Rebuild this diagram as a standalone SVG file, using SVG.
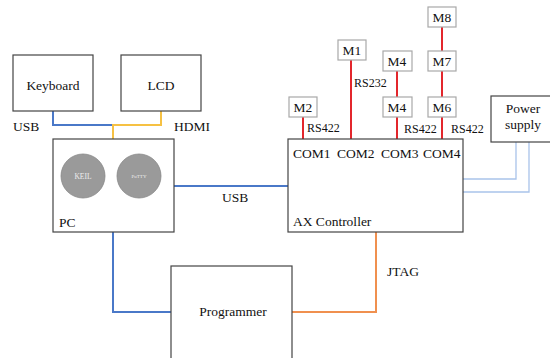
<svg xmlns="http://www.w3.org/2000/svg" width="550" height="358" viewBox="0 0 550 358" font-family="'Liberation Serif', 'DejaVu Serif', serif">
<style>
.box{fill:#fff;stroke:#444;stroke-width:1.2}
.mbox{fill:#fff;stroke:#a8a8a8;stroke-width:1.2}
text{font-family:'Liberation Serif','DejaVu Serif',serif;font-size:13.5px;fill:#111}
.c{text-anchor:middle}
.lbl{font-size:12px}
.ln{fill:none;stroke-width:2}
.blue{stroke:#4a78c8}
.yel{stroke:#f6c143}
.red{stroke:#e3262c}
.org{stroke:#f0904f}
.lb{stroke:#a9c3ea;stroke-width:1.3;fill:none}
</style>
<rect width="550" height="358" fill="#fff"/>
<g id="connectors">
<polyline class="ln blue" points="53,111 53,125 113,125"/>
<polyline class="ln yel" points="161,111 161,125 113,125 113,139"/>
<line class="ln blue" x1="174" y1="186" x2="288" y2="186"/>
<polyline class="ln blue" points="113,232 113,312 171,312"/>
<polyline class="ln org" points="376,232 376,312 292,312"/>
<line class="ln red" x1="303" y1="117" x2="303" y2="139"/>
<line class="ln red" x1="351" y1="60" x2="351" y2="139"/>
<line class="ln red" x1="397" y1="71" x2="397" y2="97"/>
<line class="ln red" x1="397" y1="117" x2="397" y2="139"/>
<line class="ln red" x1="442" y1="27" x2="442" y2="51"/>
<line class="ln red" x1="442" y1="71" x2="442" y2="97"/>
<line class="ln red" x1="442" y1="117" x2="442" y2="139"/>
<polyline class="lb" points="516,142 516,179 463,179"/>
<polyline class="lb" points="529,142 529,192 463,192"/>
<text x="13" y="131">USB</text>
<text x="174" y="131">HDMI</text>
<text x="222" y="202">USB</text>
<text x="387" y="276">JTAG</text>
<text class="lbl" x="307" y="132">RS422</text>
<text class="lbl" x="354" y="87">RS232</text>
<text class="lbl" x="404" y="133">RS422</text>
<text class="lbl" x="451" y="133">RS422</text>
</g>
<g id="keyboard"><rect class="box" x="13" y="55" width="80" height="56"/><text class="c" x="53" y="90">Keyboard</text></g>
<g id="lcd"><rect class="box" x="121" y="55" width="80" height="56"/><text class="c" x="161" y="90">LCD</text></g>
<g id="pc"><rect class="box" x="53" y="139" width="121" height="93"/>
<circle cx="83" cy="176" r="22" fill="#9a9a9a" stroke="#888" stroke-width="0.8"/>
<circle cx="139" cy="176" r="22" fill="#9a9a9a" stroke="#888" stroke-width="0.8"/>
<text class="c" x="83" y="179" style="font-size:7.5px;fill:#eee">KEIL</text>
<text class="c" x="139" y="178" style="font-size:5px;fill:#eee">PuTTY</text>
<text x="59" y="227">PC</text></g>
<g id="ax"><rect class="box" x="288" y="139" width="175" height="93"/>
<text x="293" y="158">COM1</text><text x="337" y="158">COM2</text><text x="381" y="158">COM3</text><text x="423" y="158">COM4</text>
<text x="293" y="226">AX Controller</text></g>
<g id="programmer"><rect class="box" x="171" y="266" width="121" height="100"/><text class="c" x="233" y="316">Programmer</text></g>
<g id="m2"><rect class="mbox" x="289" y="97" width="28" height="20"/><text class="c" x="303" y="112">M2</text></g>
<g id="m1"><rect class="mbox" x="338" y="40" width="28" height="20"/><text class="c" x="352" y="55">M1</text></g>
<g id="m4a"><rect class="mbox" x="383" y="51" width="29" height="20"/><text class="c" x="397" y="66">M4</text></g>
<g id="m4b"><rect class="mbox" x="383" y="97" width="29" height="20"/><text class="c" x="397" y="112">M4</text></g>
<g id="m8"><rect class="mbox" x="428" y="7" width="28" height="20"/><text class="c" x="442" y="22">M8</text></g>
<g id="m7"><rect class="mbox" x="428" y="51" width="28" height="20"/><text class="c" x="442" y="66">M7</text></g>
<g id="m6"><rect class="mbox" x="428" y="97" width="28" height="20"/><text class="c" x="442" y="112">M6</text></g>
<g id="power"><rect class="box" x="491" y="96" width="60" height="46"/><text class="c" x="523" y="113">Power</text><text class="c" x="523" y="129">supply</text></g>
</svg>
